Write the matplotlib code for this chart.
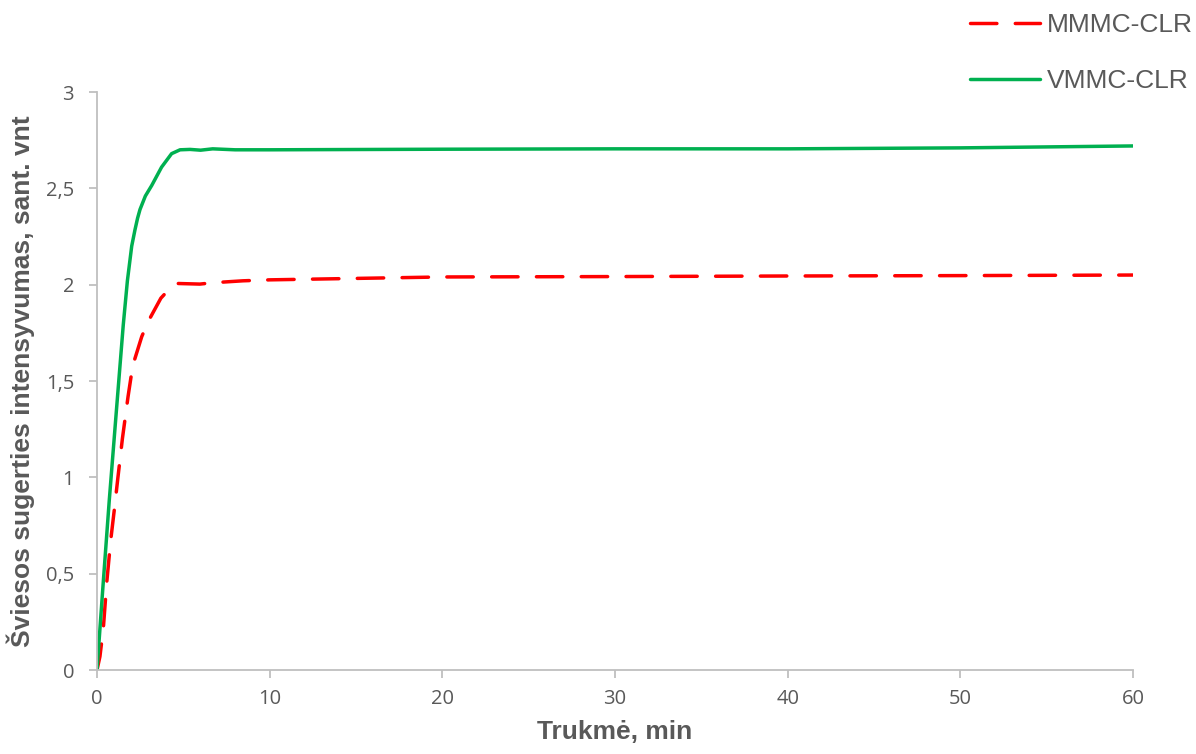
import matplotlib
matplotlib.use("Agg")
import matplotlib.pyplot as plt
from matplotlib.ticker import FuncFormatter

# Absorbance kinetics (time in minutes)
t_mmmc = [0, 0.17, 0.37, 0.56, 0.79, 1.0, 1.2, 1.47, 1.8, 2.07, 2.59, 2.97, 3.7,
          4.32, 4.71, 5.96, 6.7, 8.45, 10, 20, 30, 40, 50, 60]
v_mmmc = [0, 0.07, 0.22, 0.45, 0.67, 0.83, 0.99, 1.2, 1.42, 1.58, 1.73, 1.81, 1.93,
          1.99, 2.006, 2.003, 2.01, 2.02, 2.025, 2.04, 2.042, 2.045, 2.047, 2.05]

t_vmmc = [0, 0.35, 0.71, 1.1, 1.52, 1.76, 2.01, 2.2, 2.35, 2.49, 2.8, 3.17, 3.74,
          4.32, 4.81, 5.39, 6.0, 6.7, 8, 10, 20, 30, 40, 50, 60]
v_vmmc = [0, 0.44, 0.88, 1.32, 1.79, 2.02, 2.20, 2.285, 2.345, 2.39, 2.46, 2.515,
          2.61, 2.68, 2.70, 2.702, 2.698, 2.705, 2.70, 2.70, 2.703, 2.705, 2.705,
          2.71, 2.72]

x_ticks = [0, 10, 20, 30, 40, 50, 60]
y_ticks = [0, 0.5, 1, 1.5, 2, 2.5, 3]

fig = plt.figure(figsize=(11.96, 7.54), dpi=100)
ax = fig.add_axes([97 / 1196, 1 - 670 / 754, (1133 - 97) / 1196, (670 - 92) / 754])

ax.plot(t_mmmc, v_mmmc, color="#FF0000", lw=2.5, dashes=(7.6, 5.3),
        dash_capstyle="round", solid_joinstyle="round", label="MMMC-CLR")
ax.plot(t_vmmc, v_vmmc, color="#00B050", lw=2.5, solid_capstyle="round",
        solid_joinstyle="round", label="VMMC-CLR")

ax.set_xlim(0, 60)
ax.set_ylim(0, 3)
ax.set_xticks(x_ticks)
ax.set_yticks(y_ticks)
ax.yaxis.set_major_formatter(FuncFormatter(lambda v, p: f"{v:g}".replace(".", ",")))

for side in ("top", "right"):
    ax.spines[side].set_visible(False)
for side in ("left", "bottom"):
    ax.spines[side].set_color("#BFBFBF")
    ax.spines[side].set_linewidth(1.3)
ax.tick_params(axis="both", direction="out", length=5.5, width=1.3, color="#BFBFBF",
               labelcolor="#595959", labelsize=14.5)
ax.tick_params(axis="y", pad=11)
ax.tick_params(axis="x", pad=8)
for lbl in ax.get_xticklabels() + ax.get_yticklabels():
    lbl.set_family("Open Sans")

ax.set_xlabel("Trukmė, min", fontsize=19, fontweight="bold", color="#595959",
              family="Liberation Sans", labelpad=8)
ax.set_ylabel("Šviesos sugerties intensyvumas, sant. vnt", fontsize=19,
              fontweight="bold", color="#595959", family="Liberation Sans", labelpad=8)

leg = ax.legend(loc="upper left", bbox_to_anchor=(970 / 1196, 1 - 13 / 754),
                bbox_transform=fig.transFigure, frameon=False, borderpad=0,
                borderaxespad=0, handlelength=2.65, handletextpad=0.27,
                labelspacing=1.22, prop={"family": "Liberation Sans", "size": 19})
for txt in leg.get_texts():
    txt.set_color("#595959")

fig.savefig("out.png", dpi=100)
